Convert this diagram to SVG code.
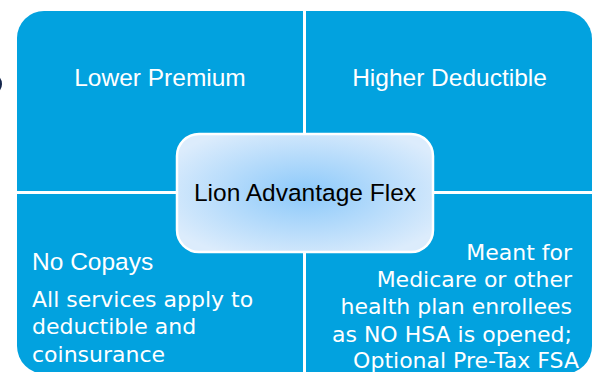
<svg xmlns="http://www.w3.org/2000/svg" width="597" height="372" viewBox="0 0 597 372">
  <defs>
    <radialGradient id="centerFill" cx="0.5" cy="0.5" r="0.6">
      <stop offset="0" stop-color="#8CC9FA"/>
      <stop offset="1" stop-color="#DCECFC"/>
    </radialGradient>
    <style>
      .quad { fill: #02A2DF; }
      .head { font-family: "Liberation Sans", Arial, sans-serif; font-size: 24.5px; fill: #FFFFFF; }
      .body { font-family: "DejaVu Sans", sans-serif; font-size: 22px; fill: #FFFFFF; }
      .center { fill: url(#centerFill); stroke: #FFFFFF; stroke-width: 2.5; }
      .ctext { font-family: "Liberation Sans", Arial, sans-serif; font-size: 24.5px; fill: #000000; }
    </style>
  </defs>
  <rect x="0" y="0" width="597" height="372" fill="#FFFFFF"/>
  <ellipse cx="-6" cy="84" rx="8" ry="9.5" fill="#14264C"/>

  <g id="quad-top-left">
    <path class="quad" d="M 17 38 A 27 27 0 0 1 44 11 L 303 11 L 303 191 L 17 191 Z"/>
    <text class="head" x="160" y="86" text-anchor="middle">Lower Premium</text>
  </g>
  <g id="quad-top-right">
    <path class="quad" d="M 306 11 L 564 11 A 28 28 0 0 1 592 39 L 592 191 L 306 191 Z"/>
    <text class="head" x="449.5" y="86" text-anchor="middle">Higher Deductible</text>
  </g>
  <g id="quad-bottom-left">
    <path class="quad" d="M 17 194 L 303 194 L 303 374 L 45 374 A 28 28 0 0 1 17 346 Z"/>
    <text class="head" x="32" y="270" font-size="24px">No Copays</text>
    <text class="body" x="32">
      <tspan x="32" y="306.5">All services apply to</tspan>
      <tspan x="32" y="334">deductible and</tspan>
      <tspan x="32" y="361.5">coinsurance</tspan>
    </text>
  </g>
  <g id="quad-bottom-right">
    <path class="quad" d="M 306 194 L 592 194 L 592 346 A 28 28 0 0 1 564 374 L 306 374 Z"/>
    <text class="body" text-anchor="end">
      <tspan x="579" y="260">Meant for</tspan>
      <tspan x="579" y="287">Medicare or other</tspan>
      <tspan x="579" y="314">health plan enrollees</tspan>
      <tspan x="579" y="341.5">as NO HSA is opened;</tspan>
      <tspan x="579" y="368">Optional Pre-Tax FSA</tspan>
    </text>
  </g>
  <g id="center-node">
    <rect class="center" x="177" y="134" width="256" height="118" rx="22" ry="22"/>
    <text class="ctext" x="305" y="201" text-anchor="middle">Lion Advantage Flex</text>
  </g>
  <g id="connectors"></g>
</svg>
